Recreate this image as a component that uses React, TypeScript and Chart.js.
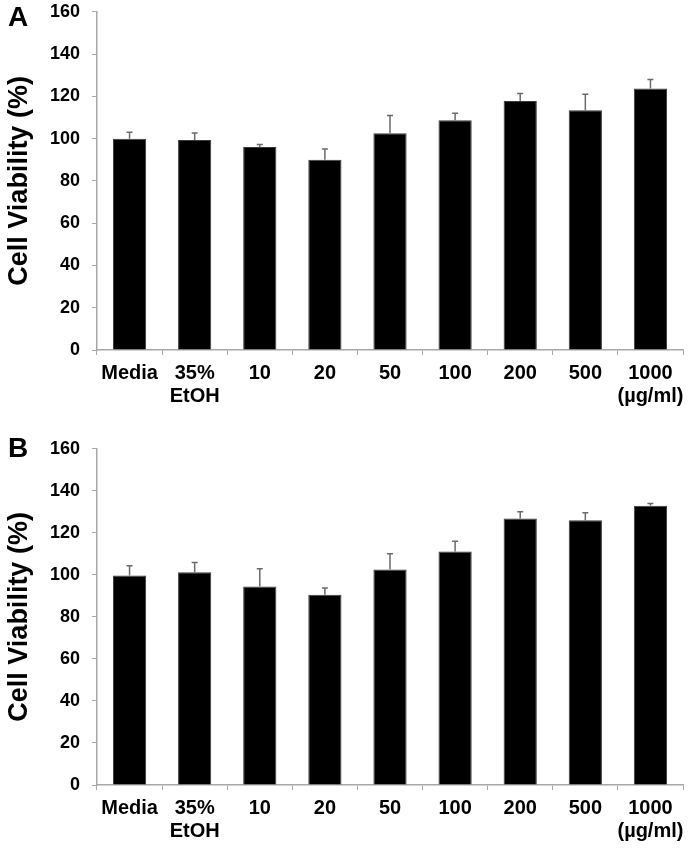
import React, { useEffect, useRef } from "react";
import { Chart, registerables } from "chart.js";

Chart.register(...registerables);

const categories: (string | string[])[] = [
  "Media",
  ["35%", "EtOH"],
  "10",
  "20",
  "50",
  "100",
  "200",
  "500",
  ["1000", "(\u00b5g/ml)"],
];

const yTicks = [0, 20, 40, 60, 80, 100, 120, 140, 160];

const meansA = [100, 99.3, 96, 90, 102.6, 108.7, 117.8, 113.4, 123.7];
const errorsA = [3, 3.4, 1.2, 5.1, 8.3, 3.3, 3.5, 7.6, 4.3];

const meansB = [99.7, 101.2, 94.5, 90.5, 102.5, 111.1, 126.8, 126, 132.9];
const errorsB = [4.7, 4.7, 8.4, 3.2, 7.6, 4.9, 3.3, 3.6, 1.1];

const FONT = '"Liberation Sans", Arial, Helvetica, sans-serif';

const errorBarPlugin = {
  id: "errorBars",
  afterDatasetsDraw(chart: any) {
    const ctx = chart.ctx;
    const yScale = chart.scales.y;
    chart.data.datasets.forEach((ds: any, di: number) => {
      const meta = chart.getDatasetMeta(di);
      const errs: number[] = ds.errors || [];
      meta.data.forEach((bar: any, i: number) => {
        const v = ds.data[i] as number;
        const e = errs[i] || 0;
        const x = bar.x;
        const yTop = yScale.getPixelForValue(v + e);
        const yBase = yScale.getPixelForValue(v);
        ctx.save();
        ctx.strokeStyle = "#6a6a6a";
        ctx.lineWidth = 1.5;
        ctx.beginPath();
        ctx.moveTo(x, yBase);
        ctx.lineTo(x, yTop);
        ctx.moveTo(x - 3, yTop);
        ctx.lineTo(x + 3, yTop);
        ctx.stroke();
        ctx.restore();
      });
    });
  },
};

type PanelProps = {
  letter: string;
  top: number;
  height: number;
  letterTop: number;
  means: number[];
  errors: number[];
  xAxisHeight: number;
};

function Panel({ letter, top, height, letterTop, means, errors, xAxisHeight }: PanelProps) {
  const ref = useRef<HTMLCanvasElement | null>(null);

  useEffect(() => {
    if (!ref.current) return;
    const chart = new Chart(ref.current, {
      type: "bar",
      data: {
        labels: categories as any,
        datasets: [
          {
            data: means,
            errors: errors,
            backgroundColor: "#000000",
            borderColor: "#3a3a3a",
            borderWidth: 1,
            barPercentage: 0.51,
            categoryPercentage: 1,
          } as any,
        ],
      },
      options: {
        responsive: false,
        animation: false,
        layout: { padding: { left: 0, right: 8, top: 11, bottom: 0 } },
        plugins: {
          legend: { display: false },
          tooltip: { enabled: false },
          title: { display: false },
        },
        scales: {
          x: {
            offset: true,
            grid: {
              offset: true,
              drawOnChartArea: false,
              drawTicks: true,
              tickLength: 5,
              color: "#a8a8a8",
            },
            border: { display: true, color: "#a8a8a8", width: 1.5 },
            ticks: {
              color: "#000",
              font: { family: FONT, size: 20, weight: "bold", lineHeight: 1.15 },
              padding: 7,
              maxRotation: 0,
              autoSkip: false,
            },
            afterFit: (scale: any) => {
              scale.height = xAxisHeight;
            },
          },
          y: {
            min: 0,
            max: 160,
            afterBuildTicks: (scale: any) => {
              scale.ticks = yTicks.map((v) => ({ value: v }));
            },
            grid: {
              drawOnChartArea: false,
              drawTicks: true,
              tickLength: 5,
              color: "#a8a8a8",
            },
            border: { display: true, color: "#a8a8a8", width: 1.5 },
            ticks: {
              color: "#000",
              font: { family: FONT, size: 18, weight: "bold" },
              padding: 12,
            },
            title: {
              display: true,
              text: "Cell Viability (%)",
              color: "#000",
              font: { family: FONT, size: 27, weight: "bold" },
              padding: { top: 3, bottom: 0 },
            },
            afterFit: (scale: any) => {
              scale.width = 97;
            },
          },
        },
      },
      plugins: [errorBarPlugin],
    });
    return () => chart.destroy();
  }, []);

  return (
    <>
      <div style={{ position: "absolute", left: 0, top, width: 691, height }}>
        <canvas ref={ref} width={691} height={height} style={{ width: 691, height, display: "block" }} />
      </div>
      <div
        style={{
          position: "absolute",
          left: 8,
          top: letterTop,
          fontFamily: FONT,
          fontWeight: "bold",
          fontSize: 28,
          lineHeight: "28px",
          color: "#000",
        }}
      >
        {letter}
      </div>
    </>
  );
}

export default function App() {
  return (
    <div style={{ position: "absolute", left: 0, top: 0, width: 691, height: 849, background: "#fff", overflow: "hidden" }}>
      <Panel letter="A" top={-11} height={436} letterTop={3} means={meansA} errors={errorsA} xAxisHeight={75} />
      <Panel letter="B" top={426} height={423} letterTop={434} means={meansB} errors={errorsB} xAxisHeight={64} />
    </div>
  );
}
